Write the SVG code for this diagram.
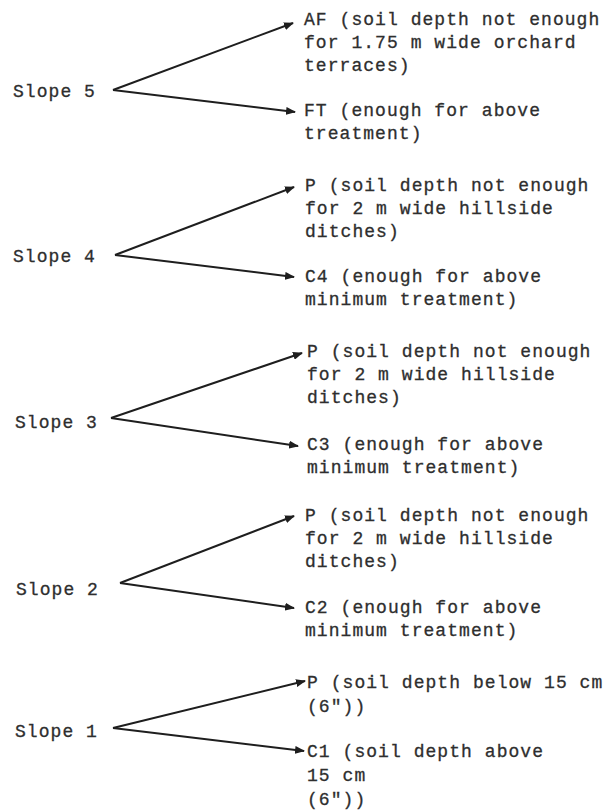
<svg xmlns="http://www.w3.org/2000/svg" width="613" height="812" viewBox="0 0 613 812">
<style>
text{font-family:"Liberation Mono","DejaVu Sans Mono",monospace;font-size:18px;letter-spacing:1.05px;fill:#2e2e2e;stroke:#2e2e2e;stroke-width:0.3}
.c{fill:none;stroke:#1e1e1e;stroke-width:2;marker-end:url(#ah)}
</style>
<defs>
<marker id="ah" viewBox="0 0 10 8" refX="9" refY="4" markerWidth="10" markerHeight="8" markerUnits="userSpaceOnUse" orient="auto">
<path d="M0,0 L10,4 L0,8 Z" fill="#1e1e1e"/>
</marker>
</defs>
<rect width="613" height="812" fill="#fff"/>
<g id="connectors">
<line class="c" x1="113" y1="90" x2="293" y2="23"/>
<line class="c" x1="113" y1="90" x2="295" y2="112"/>
<line class="c" x1="115" y1="255" x2="294" y2="187"/>
<line class="c" x1="115" y1="255" x2="294" y2="277"/>
<line class="c" x1="111" y1="418" x2="302" y2="353"/>
<line class="c" x1="111" y1="418" x2="298" y2="446"/>
<line class="c" x1="120" y1="583" x2="294" y2="516"/>
<line class="c" x1="120" y1="583" x2="294" y2="608"/>
<line class="c" x1="113" y1="728" x2="305" y2="681"/>
<line class="c" x1="113" y1="728" x2="304" y2="751"/>
</g>
<g id="slope5"><text x="13" y="97">Slope 5</text></g>
<g id="af"><text x="304" y="25">AF (soil depth not enough</text><text x="304" y="48">for 1.75 m wide orchard</text><text x="304" y="71">terraces)</text></g>
<g id="ft"><text x="304" y="116">FT (enough for above</text><text x="304" y="139">treatment)</text></g>
<g id="slope4"><text x="13" y="262">Slope 4</text></g>
<g id="p4"><text x="305" y="191">P (soil depth not enough</text><text x="305" y="214">for 2 m wide hillside</text><text x="305" y="237">ditches)</text></g>
<g id="c4"><text x="305" y="282">C4 (enough for above</text><text x="305" y="305">minimum treatment)</text></g>
<g id="slope3"><text x="15" y="428">Slope 3</text></g>
<g id="p3"><text x="307" y="357">P (soil depth not enough</text><text x="307" y="380">for 2 m wide hillside</text><text x="307" y="403">ditches)</text></g>
<g id="c3"><text x="307" y="450">C3 (enough for above</text><text x="307" y="473">minimum treatment)</text></g>
<g id="slope2"><text x="16" y="595">Slope 2</text></g>
<g id="p2"><text x="305" y="521">P (soil depth not enough</text><text x="305" y="544">for 2 m wide hillside</text><text x="305" y="567">ditches)</text></g>
<g id="c2"><text x="305" y="613">C2 (enough for above</text><text x="305" y="636">minimum treatment)</text></g>
<g id="slope1"><text x="15" y="737">Slope 1</text></g>
<g id="p1"><text x="307" y="688">P (soil depth below 15 cm</text><text x="307" y="712">(6"))</text></g>
<g id="c1"><text x="307" y="757">C1 (soil depth above</text><text x="307" y="781">15 cm</text><text x="307" y="805">(6"))</text></g>
</svg>
